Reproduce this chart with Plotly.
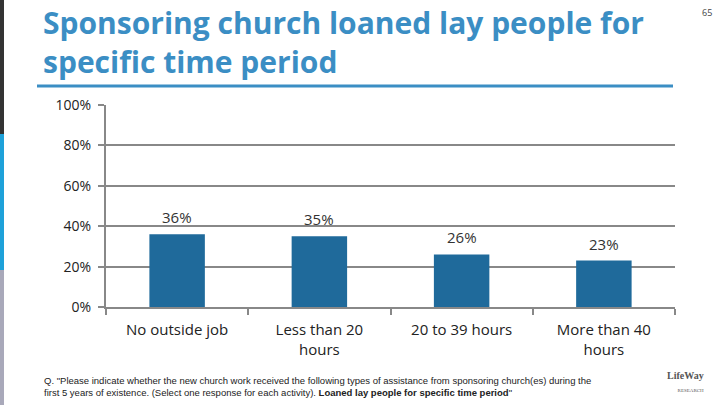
import plotly.graph_objects as go

categories = ["No outside job", "Less than 20<br>hours", "20 to 39 hours", "More than 40<br>hours"]
values = [36, 35, 26, 23]
value_labels = ["36%", "35%", "26%", "23%"]
y_ticks = [0, 20, 40, 60, 80, 100]
y_tick_labels = ["0%", "20%", "40%", "60%", "80%", "100%"]

title_text = "Sponsoring church loaned lay people for<br>specific time period"
footnote = ('Q. "Please indicate whether the new church work received the following types of assistance from sponsoring church(es) during the<br>'
            'first 5 years of existence. (Select one response for each activity). <b>Loaned lay people for specific time period</b>"')

FONT = "Open Sans"
W, H = 720, 405
L, R, T, B = 106, 45, 105, 98
PW, PH = W - L - R, H - T - B


def px(x):
    return (x - L) / PW


def py(y):
    return (H - y - B) / PH


fig = go.Figure()
fig.add_trace(go.Bar(
    x=categories, y=values, width=0.39,
    marker=dict(color="#1f6a9b", line=dict(width=0)),
    hoverinfo="skip",
))
for c, v, t in zip(categories, values, value_labels):
    fig.add_annotation(x=c, y=v, text=t, showarrow=False, yanchor="bottom", yshift=5,
                       font=dict(family=FONT, size=15, color="#333333"))

fig.update_layout(
    width=W, height=H,
    margin=dict(l=L, r=R, t=T, b=B),
    paper_bgcolor="white", plot_bgcolor="white",
    showlegend=False,
    font=dict(family=FONT, color="#222222"),
    xaxis=dict(
        showgrid=False, showline=True, linecolor="#888888", linewidth=2,
        ticks="outside", ticklen=6, tickcolor="#888888", tickwidth=2,
        tickson="boundaries", ticklabelstandoff=8,
        tickfont=dict(family=FONT, size=15, color="#222222"),
    ),
    yaxis=dict(
        range=[0, 100], tickvals=y_ticks, ticktext=y_tick_labels,
        showgrid=True, gridcolor="#888888", gridwidth=2,
        showline=True, linecolor="#888888", linewidth=2,
        ticks="outside", ticklen=6, tickcolor="#888888", tickwidth=2,
        ticklabelstandoff=4,
        tickfont=dict(family=FONT, size=14, color="#222222"),
        zeroline=False,
    ),
)

fig.add_shape(type="line", xref="paper", yref="paper",
              x0=px(37), x1=px(673), y0=py(86), y1=py(86),
              line=dict(color="#3b8ec4", width=3))
for y0, y1, col in [(0, 134, "#333333"), (134, 270, "#1ea1d9"), (270, 405, "#a9a9ba")]:
    fig.add_shape(type="rect", xref="paper", yref="paper",
                  x0=px(0), x1=px(4), y0=py(y1), y1=py(y0),
                  fillcolor=col, line=dict(width=0), layer="above")

fig.add_annotation(text=title_text, xref="paper", yref="paper",
                   x=px(41), y=py(0),
                   xanchor="left", yanchor="top", align="left", showarrow=False,
                   font=dict(family=FONT, size=30, color="#3b8ec4", weight=700))
fig.add_annotation(text="65", xref="paper", yref="paper",
                   x=px(714), y=py(4),
                   xanchor="right", yanchor="top", showarrow=False,
                   font=dict(family=FONT, size=9, color="#444444"))
fig.add_annotation(text=footnote, xref="paper", yref="paper",
                   x=px(42), y=py(373),
                   xanchor="left", yanchor="top", align="left", showarrow=False,
                   font=dict(family="Liberation Sans Narrow, Liberation Sans", size=9.5, color="#222222"))
fig.add_annotation(text="<b>LifeWay</b><br><span style='font-size:5px'>RESEARCH</span>", xref="paper", yref="paper",
                   x=px(706), y=py(368),
                   xanchor="right", yanchor="top", align="right", showarrow=False,
                   font=dict(family="Liberation Serif", size=10, color="#555555"))

fig.write_html("out.html", config={"displayModeBar": False},
               post_script="document.body.style.margin='0';document.body.style.padding='0';")
